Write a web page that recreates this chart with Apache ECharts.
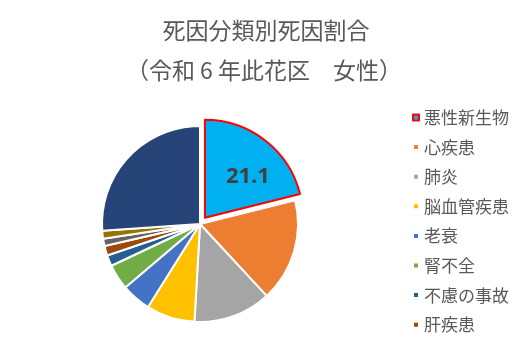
<!DOCTYPE html>
<html><head><meta charset="utf-8">
<script src="https://cdn.jsdelivr.net/npm/echarts@6/dist/echarts.min.js"></script>
<style>html,body{margin:0;padding:0;background:#fff}#c{width:517px;height:358px}</style>
</head><body><div id="c"></div>
<script>
const titleLines = ['死因分類別死因割合', '（令和 6 年此花区　女性）'];
const categories = ['悪性新生物','心疾患','肺炎','脳血管疾患','老衰','腎不全','不慮の事故','肝疾患','自殺','糖尿病','その他'];
const values = [21.1, 17.0, 12.8, 8.0, 4.9, 4.2, 1.8, 1.6, 1.2, 1.3, 26.1];
const colors = ['#00B0F0','#ED7D31','#A5A5A5','#FFC000','#4472C4','#70AD47','#255E91','#9E480E','#636363','#997300','#264478'];
const legendNames = categories.slice(0, 8);

const data = categories.map((n, i) => {
  const d = { name: n, value: values[i], itemStyle: { color: colors[i] } };
  if (i === 0) {
    d.selected = true;
    d.itemStyle.borderColor = '#FF0000';
    d.itemStyle.borderWidth = 2;
    d.label = { show: true, position: 'inside', formatter: '{c}', fontSize: 22, fontWeight: 'bold', color: '#404040', fontFamily: 'Open Sans', padding: [0, 0, 0, 22] };
  }
  return d;
});

const chart = echarts.init(document.getElementById('c'), null, { renderer: 'canvas' });
chart.setOption({
  animation: false,
  title: [
    { text: titleLines[0], left: 261, top: 14, textAlign: 'center', textStyle: { fontSize: 23, fontWeight: 'normal', color: '#595959', fontFamily: 'Noto Sans CJK JP' } },
    { text: titleLines[1], left: 259, top: 54, textAlign: 'center', textStyle: { fontSize: 23, fontWeight: 'normal', color: '#595959', fontFamily: 'Noto Sans CJK JP' } }
  ],
  legend: {
    orient: 'vertical', left: 407, top: 104,
    data: legendNames, icon: 'rect', itemWidth: 6, itemHeight: 6, itemGap: 12.6,
    selectedMode: false,
    textStyle: { fontSize: 17, color: '#595959', fontFamily: 'Noto Sans CJK JP' }
  },
  series: [{
    type: 'pie', center: [200, 224], radius: 98, startAngle: 90, clockwise: true,
    selectedMode: 'single', selectedOffset: 8, avoidLabelOverlap: false,
    itemStyle: { borderColor: '#fff', borderWidth: 2 },
    label: { show: false }, labelLine: { show: false },
    emphasis: { disabled: true },
    data: data
  }]
});
</script></body></html>
